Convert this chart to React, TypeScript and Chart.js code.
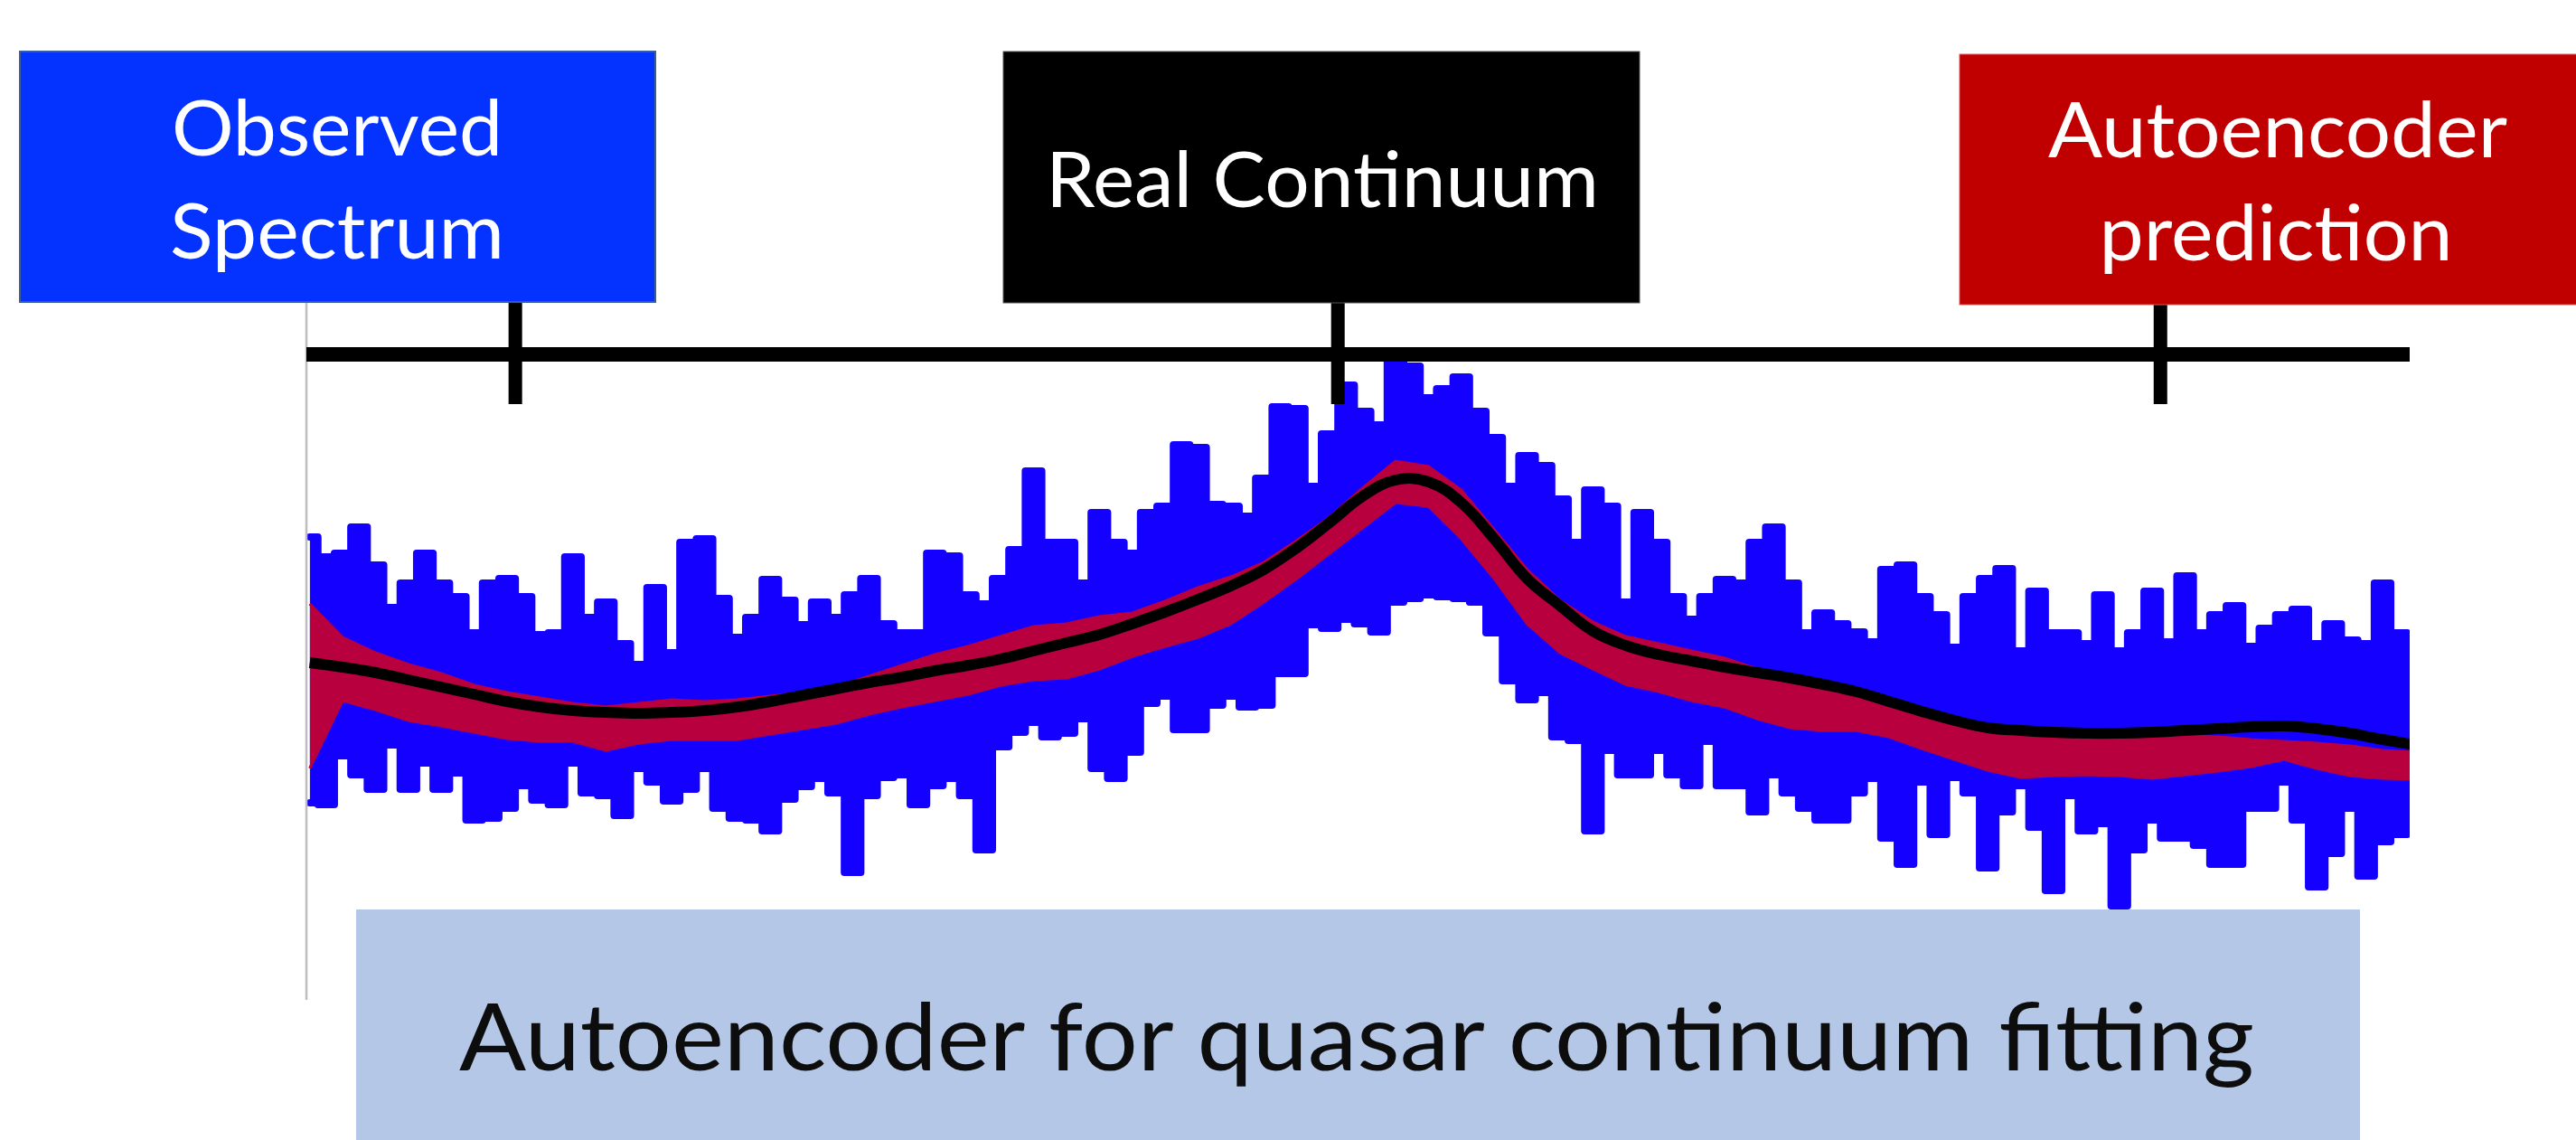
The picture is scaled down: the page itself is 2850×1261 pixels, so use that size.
import React, { useEffect, useRef } from 'react';
import { Chart, registerables } from 'chart.js';

Chart.register(...registerables);

// ---- Data (rest-frame wavelength in Å, flux in arbitrary units) ----
const X_MIN = 1074.6;
const X_MAX = 1330.3;
const AXIS_TICKS = [1100, 1200, 1300];

// observed-spectrum wavelength grid (2 Å step)
const WAVELENGTH = Array.from({ length: 129 }, (_, i) => 1075 + 2 * i);
// smooth-curve wavelength grid (4 Å step)
const SMOOTH_WAVELENGTH = [...Array.from({ length: 64 }, (_, k) => 1075 + 4 * k), 1331];

// upper / lower envelope of the noisy observed spectrum
const OBSERVED_UPPER = [
  5.12, 4.90, 4.94, 5.23, 4.81, 4.34, 4.61, 4.94, 4.61, 4.46,
  4.06, 4.61, 4.66, 4.46, 4.04, 4.06, 4.90, 4.23, 4.40, 3.94,
  3.71, 4.56, 3.84, 5.06, 5.10, 4.44, 4.01, 4.23, 4.65, 4.42,
  4.15, 4.40, 4.23, 4.48, 4.66, 4.16, 4.06, 4.06, 4.94, 4.91,
  4.48, 4.38, 4.66, 4.98, 5.85, 5.06, 5.06, 4.61, 5.39, 5.06,
  4.94, 5.39, 5.46, 6.14, 6.11, 5.48, 5.46, 5.35, 5.77, 6.56,
  6.54, 5.68, 6.26, 6.80, 6.51, 6.36, 7.07, 7.01, 6.66, 6.76,
  6.89, 6.51, 6.22, 5.68, 6.02, 5.91, 5.54, 5.06, 5.64, 5.46,
  4.40, 5.39, 5.06, 4.46, 4.21, 4.46, 4.65, 4.61, 5.06, 5.23,
  4.61, 4.06, 4.28, 4.16, 4.07, 3.96, 4.76, 4.81, 4.46, 4.26,
  3.90, 4.46, 4.66, 4.77, 3.86, 4.52, 4.06, 4.06, 3.94, 4.48,
  3.86, 4.06, 4.52, 3.96, 4.69, 4.06, 4.26, 4.36, 3.91, 4.11,
  4.26, 4.32, 3.94, 4.16, 3.98, 3.94, 4.61, 4.06, 4.00,
];
const OBSERVED_LOWER = [
  2.18, 2.16, 2.70, 2.49, 2.33, 2.82, 2.33, 2.62, 2.33, 2.51,
  1.99, 2.01, 2.12, 2.37, 2.21, 2.16, 2.62, 2.29, 2.26, 2.04,
  2.56, 2.41, 2.20, 2.33, 2.56, 2.12, 2.01, 1.99, 1.87, 2.22,
  2.36, 2.45, 2.29, 1.41, 2.26, 2.46, 2.49, 2.16, 2.37, 2.45,
  2.26, 1.66, 2.80, 2.96, 3.07, 2.91, 2.95, 3.11, 2.56, 2.45,
  2.74, 3.28, 3.36, 2.99, 2.99, 3.26, 3.36, 3.24, 3.26, 3.61,
  3.61, 4.15, 4.11, 4.21, 4.16, 4.07, 4.40, 4.44, 4.48, 4.46,
  4.44, 4.40, 4.06, 3.53, 3.32, 3.40, 2.91, 2.87, 1.87, 2.76,
  2.49, 2.49, 2.76, 2.49, 2.37, 2.86, 2.37, 2.37, 2.08, 2.49,
  2.29, 2.12, 1.99, 1.99, 2.29, 2.45, 1.79, 1.50, 2.41, 1.83,
  2.46, 2.29, 1.46, 2.08, 2.37, 1.91, 1.21, 2.26, 1.87, 1.95,
  1.04, 1.66, 1.99, 1.79, 1.79, 1.71, 1.50, 1.50, 2.12, 2.12,
  2.41, 1.99, 1.25, 1.62, 2.12, 1.37, 1.75, 1.83, 1.90,
];

// autoencoder prediction band (upper / lower edge)
const PREDICTION_UPPER = [
  4.38, 4.01, 3.84, 3.71, 3.61, 3.48, 3.40, 3.34, 3.28, 3.24,
  3.28, 3.32, 3.30, 3.32, 3.36, 3.40, 3.46, 3.58, 3.70, 3.82,
  3.91, 4.02, 4.13, 4.16, 4.24, 4.28, 4.41, 4.56, 4.68, 4.84,
  5.08, 5.34, 5.66, 5.96, 5.90, 5.64, 5.20, 4.76, 4.42, 4.18,
  4.02, 3.94, 3.86, 3.78, 3.66, 3.58, 3.51, 3.42, 3.28, 3.18,
  3.10, 3.01, 2.94, 2.91, 2.88, 2.88, 2.90, 2.92, 2.91, 2.88,
  2.86, 2.84, 2.81, 2.76, 2.74,
];
const PREDICTION_LOWER = [
  2.56, 3.31, 3.21, 3.09, 3.03, 2.96, 2.89, 2.86, 2.86, 2.76,
  2.84, 2.88, 2.88, 2.88, 2.94, 3.00, 3.06, 3.16, 3.24, 3.31,
  3.38, 3.48, 3.54, 3.56, 3.66, 3.80, 3.91, 4.01, 4.16, 4.40,
  4.66, 4.94, 5.22, 5.50, 5.46, 5.10, 4.66, 4.16, 3.84, 3.66,
  3.49, 3.41, 3.31, 3.24, 3.11, 3.01, 2.98, 2.98, 2.91, 2.78,
  2.66, 2.54, 2.46, 2.48, 2.49, 2.48, 2.45, 2.49, 2.53, 2.58,
  2.66, 2.56, 2.48, 2.45, 2.44,
];

// real (true) continuum
const REAL_CONTINUUM = [
  3.73, 3.68, 3.62, 3.54, 3.46, 3.38, 3.30, 3.24, 3.20, 3.18,
  3.17, 3.18, 3.20, 3.24, 3.30, 3.37, 3.44, 3.51, 3.57, 3.64,
  3.70, 3.77, 3.86, 3.95, 4.04, 4.16, 4.29, 4.43, 4.58, 4.76,
  5.00, 5.28, 5.57, 5.75, 5.73, 5.50, 5.10, 4.66, 4.36, 4.08,
  3.92, 3.82, 3.75, 3.68, 3.62, 3.56, 3.49, 3.41, 3.30, 3.19,
  3.09, 3.01, 2.98, 2.96, 2.95, 2.95, 2.96, 2.98, 3.00, 3.02,
  3.03, 3.00, 2.95, 2.88, 2.82,
];

const Y_MIN = 0;
const Y_MAX = 7.14;

const SPECTRUM_BLUE = '#1400FF';
const PREDICTION_RED = '#B9003E';

const toPoints = (xs: number[], ys: number[]) => xs.map((x, i) => ({ x, y: ys[i] }));

const axisPlugin = {
  id: 'topAxis',
  afterDatasetsDraw(chart: any) {
    const { ctx, chartArea, scales } = chart;
    ctx.save();
    // thin grey left frame line
    ctx.strokeStyle = '#bdbdbd';
    ctx.lineWidth = 2.5;
    ctx.beginPath();
    ctx.moveTo(chartArea.left, 330);
    ctx.lineTo(chartArea.left, chartArea.bottom);
    ctx.stroke();
    // thick top axis line
    ctx.strokeStyle = '#000';
    ctx.lineWidth = 16;
    ctx.lineCap = 'butt';
    ctx.beginPath();
    ctx.moveTo(chartArea.left, chartArea.top);
    ctx.lineTo(chartArea.right, chartArea.top);
    ctx.stroke();
    // ticks crossing the axis
    ctx.lineWidth = 15;
    for (const t of AXIS_TICKS) {
      const px = scales.x.getPixelForValue(t);
      ctx.beginPath();
      ctx.moveTo(px, chartArea.top - 62);
      ctx.lineTo(px, chartArea.top + 55);
      ctx.stroke();
    }
    ctx.restore();
  },
};

export default function App() {
  const ref = useRef<HTMLCanvasElement>(null);

  useEffect(() => {
    const chart = new Chart(ref.current as HTMLCanvasElement, {
      type: 'line',
      data: {
        datasets: [
          {
            label: 'Observed Spectrum (upper)',
            data: toPoints(WAVELENGTH, OBSERVED_UPPER),
            borderColor: SPECTRUM_BLUE,
            backgroundColor: SPECTRUM_BLUE,
            borderWidth: 8,
            borderJoinStyle: 'round',
            borderCapStyle: 'round',
            stepped: 'middle',
            fill: '+1',
            pointRadius: 0,
            order: 3,
            clip: 0,
          },
          {
            label: 'Observed Spectrum (lower)',
            data: toPoints(WAVELENGTH, OBSERVED_LOWER),
            borderColor: SPECTRUM_BLUE,
            backgroundColor: SPECTRUM_BLUE,
            borderWidth: 8,
            borderJoinStyle: 'round',
            borderCapStyle: 'round',
            stepped: 'middle',
            fill: false,
            pointRadius: 0,
            order: 3,
            clip: 0,
          },
          {
            label: 'Autoencoder prediction (upper)',
            data: toPoints(SMOOTH_WAVELENGTH, PREDICTION_UPPER),
            borderColor: PREDICTION_RED,
            backgroundColor: PREDICTION_RED,
            borderWidth: 3,
            tension: 0,
            fill: '+1',
            pointRadius: 0,
            order: 2,
            clip: 0,
          },
          {
            label: 'Autoencoder prediction (lower)',
            data: toPoints(SMOOTH_WAVELENGTH, PREDICTION_LOWER),
            borderColor: PREDICTION_RED,
            backgroundColor: PREDICTION_RED,
            borderWidth: 3,
            tension: 0,
            fill: false,
            pointRadius: 0,
            order: 2,
            clip: 0,
          },
          {
            label: 'Real Continuum',
            data: toPoints(SMOOTH_WAVELENGTH, REAL_CONTINUUM),
            borderColor: '#000000',
            borderWidth: 12,
            borderJoinStyle: 'round',
            tension: 0.4,
            fill: false,
            pointRadius: 0,
            order: 1,
            clip: 0,
          },
        ],
      },
      options: {
        responsive: false,
        animation: false,
        devicePixelRatio: 1,
        events: [],
        layout: { padding: { left: 339, top: 392, right: 184, bottom: 155 } },
        scales: {
          x: { type: 'linear', min: X_MIN, max: X_MAX, display: false },
          y: { type: 'linear', min: Y_MIN, max: Y_MAX, display: false },
        },
        plugins: {
          legend: { display: false },
          tooltip: { enabled: false },
        },
      },
      plugins: [axisPlugin],
    } as any);
    return () => chart.destroy();
  }, []);

  const font = 'Lato, "Open Sans", sans-serif';

  return (
    <div
      style={{
        position: 'fixed',
        left: 0,
        top: 0,
        width: 2850,
        height: 1261,
        overflow: 'hidden',
        background: '#ffffff',
      }}
    >
      <canvas
        ref={ref}
        width={2850}
        height={1261}
        style={{ position: 'absolute', left: 0, top: 0, width: 2850, height: 1261, display: 'block' }}
      />
      <svg
        width={2850}
        height={1261}
        style={{ position: 'absolute', left: 0, top: 0, pointerEvents: 'none' }}
      >
        {/* Observed Spectrum label */}
        <rect x={22} y={57} width={703} height={277} fill="#0433FF" stroke="#3B5C9A" strokeWidth={2} />
        <text x={373} y={172} fill="#ffffff" fontFamily={font} fontSize={85} textAnchor="middle" textLength={366} lengthAdjust="spacingAndGlyphs">Observed</text>
        <text x={373} y={286} fill="#ffffff" fontFamily={font} fontSize={85} textAnchor="middle" textLength={370} lengthAdjust="spacingAndGlyphs">Spectrum</text>

        {/* Real Continuum label */}
        <rect x={1110} y={57} width={704} height={278} fill="#000000" stroke="#555555" strokeWidth={1} />
        <text x={1463} y={229} fill="#ffffff" fontFamily={font} fontSize={85} textAnchor="middle" textLength={612} lengthAdjust="spacingAndGlyphs">Real Continuum</text>

        {/* Autoencoder prediction label */}
        <rect x={2168} y={60} width={700} height={277} fill="#C00000" stroke="#D65A5A" strokeWidth={1} />
        <text x={2520} y={174} fill="#ffffff" fontFamily={font} fontSize={85} textAnchor="middle" textLength={508} lengthAdjust="spacingAndGlyphs">Autoencoder</text>
        <text x={2518} y={288} fill="#ffffff" fontFamily={font} fontSize={85} textAnchor="middle" textLength={391} lengthAdjust="spacingAndGlyphs">prediction</text>

        {/* Title banner */}
        <rect x={394} y={1006} width={2217} height={260} fill="#B4C7E7" />
        <text x={1501} y={1184} fill="#0D0D0D" fontFamily={font} fontSize={103} textAnchor="middle" textLength={1986} lengthAdjust="spacingAndGlyphs">Autoencoder for quasar continuum fitting</text>
      </svg>
    </div>
  );
}
